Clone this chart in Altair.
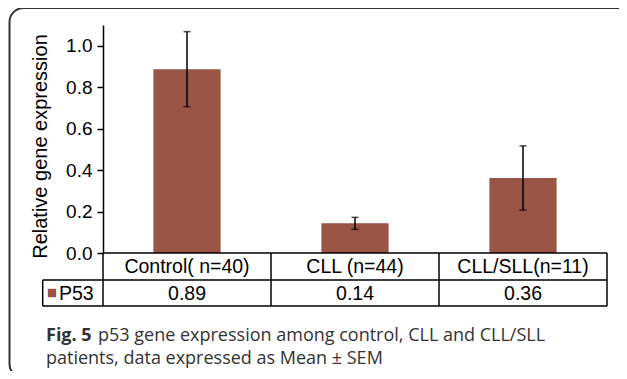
import altair as alt
import pandas as pd

groups = ["Control( n=40)", "CLL (n=44)", "CLL/SLL(n=11)"]
means = [0.887, 0.143, 0.362]
sems = [0.181, 0.029, 0.155]
y_ticks = [0.0, 0.2, 0.4, 0.6, 0.8, 1.0]
series_name = "P53"
y_title = "Relative gene expression"
caption_bold = "Fig. 5"
caption_line1 = "p53 gene expression among control, CLL and CLL/SLL"
caption_line2 = "patients, data expressed as Mean \u00b1 SEM"

BAR = "#9A5446"
FONT = "Liberation Sans"
CAP_FONT = "Open Sans"
CAP_COLOR = "#333333"
TXT = 19.5

df = pd.DataFrame({"group": groups, "mean": means, "sem": sems})
df["lo"] = df["mean"] - df["sem"]
df["hi"] = df["mean"] + df["sem"]

one = pd.DataFrame({"k": [0]})

xs = alt.Scale(domain=groups, paddingInner=0.6, paddingOuter=0.3)
ys = alt.Scale(domain=[0, 1.1], nice=False, zero=True)

base = alt.Chart(df)

bars = base.mark_bar(color=BAR).encode(
    x=alt.X("group:N", scale=xs, axis=None, sort=groups),
    y=alt.Y(
        "mean:Q",
        scale=ys,
        axis=alt.Axis(
            values=y_ticks, format=".1f", grid=False,
            domainColor="black", domainWidth=1.5,
            tickColor="black", tickWidth=1.5, tickSize=6,
            labelFont=FONT, labelFontSize=19, labelColor="black", labelPadding=5,
            title=y_title, titleFont=FONT, titleFontSize=20,
            titleFontWeight="normal", titleColor="black", titlePadding=15,
            titleY=121,
        ),
    ),
)

err = base.mark_rule(color="black", strokeWidth=1.5).encode(
    x=alt.X("group:N", sort=groups), y="lo:Q", y2="hi:Q"
)
cap_lo = base.mark_tick(color="black", size=7, thickness=1.5, orient="horizontal").encode(
    x=alt.X("group:N", sort=groups), y="lo:Q"
)
cap_hi = base.mark_tick(color="black", size=7, thickness=1.5, orient="horizontal").encode(
    x=alt.X("group:N", sort=groups), y="hi:Q"
)

row1 = base.mark_text(font=FONT, fontSize=TXT, color="black", baseline="middle").encode(
    x=alt.X("group:N", sort=groups), y=alt.value(242), text="group:N"
)
row2 = base.mark_text(font=FONT, fontSize=TXT, color="black", baseline="middle").encode(
    x=alt.X("group:N", sort=groups), y=alt.value(268.5), text=alt.Text("mean:Q", format=".2f")
)


def hline(y, x1, x2, w=1.5, color="black"):
    return alt.Chart(one).mark_rule(color=color, strokeWidth=w).encode(
        x=alt.value(x1), x2=alt.value(x2), y=alt.value(y)
    )


def vline(x, y1, y2, w=1.5, color="black"):
    return alt.Chart(one).mark_rule(color=color, strokeWidth=w).encode(
        x=alt.value(x), y=alt.value(y1), y2=alt.value(y2)
    )


lines = [
    hline(228, 0, 504),
    hline(255, -60.3, 504),
    hline(281, -60.3, 504),
    vline(-60.3, 255, 281),
    vline(0, 228, 281),
    vline(168, 228, 281),
    vline(336, 228, 281),
    vline(504, 228, 281),
]

legend_sq = alt.Chart(one).mark_square(color=BAR, size=70, opacity=1).encode(
    x=alt.value(-51), y=alt.value(268)
)
legend_txt = alt.Chart(one).mark_text(
    font=FONT, fontSize=TXT, color="black", align="left", baseline="middle"
).encode(x=alt.value(-44), y=alt.value(268.5), text=alt.value(series_name))

cap_b = alt.Chart(one).mark_text(
    font=CAP_FONT, fontSize=18, fontWeight="bold", color=CAP_COLOR, align="left", baseline="alphabetic"
).encode(x=alt.value(-57), y=alt.value(316), text=alt.value(caption_bold))
cap_1 = alt.Chart(one).mark_text(
    font=CAP_FONT, fontSize=18, color=CAP_COLOR, align="left", baseline="alphabetic"
).encode(x=alt.value(-5), y=alt.value(316), text=alt.value(caption_line1))
cap_2 = alt.Chart(one).mark_text(
    font=CAP_FONT, fontSize=18, color=CAP_COLOR, align="left", baseline="alphabetic"
).encode(x=alt.value(-57), y=alt.value(339), text=alt.value(caption_line2))

frame = alt.Chart(one).mark_rect(
    fill=None, stroke="#333333", strokeWidth=2, cornerRadius=14
).encode(x=alt.value(-93.5), x2=alt.value(560), y=alt.value(-17), y2=alt.value(353))

chart = alt.layer(
    frame, bars, err, cap_lo, cap_hi, *lines, row1, row2, legend_sq, legend_txt, cap_b, cap_1, cap_2
).properties(
    width=504,
    height=228,
    autosize=alt.AutoSizeParams(type="none"),
    padding={"left": 95, "top": 17, "right": 12, "bottom": 118},
    background="white",
).configure_view(stroke=None)

chart.save("out.html", embed_options={"renderer": "svg", "actions": False})
